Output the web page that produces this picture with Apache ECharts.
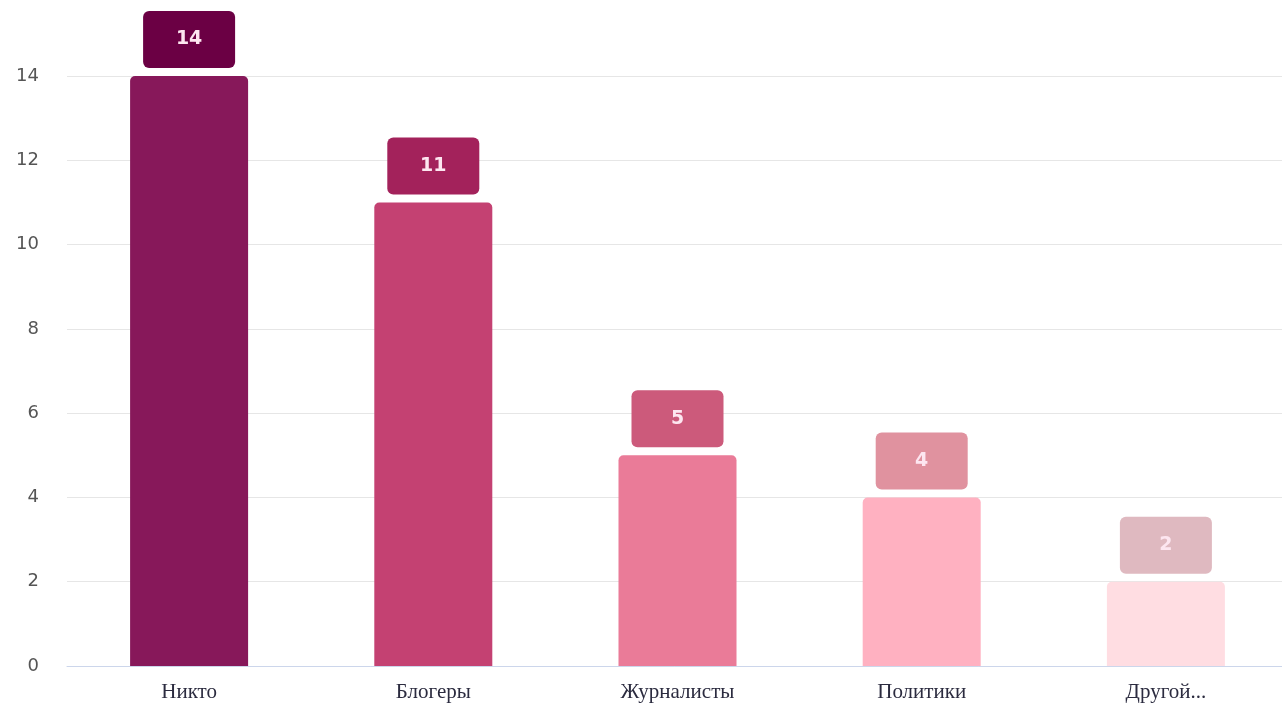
<!DOCTYPE html>
<html><head><meta charset="utf-8">
<script src="https://cdn.jsdelivr.net/npm/echarts@6/dist/echarts.min.js"></script>
<style>html,body{margin:0;padding:0;background:#fff}#c{width:1282px;height:709px}</style>
</head><body><div id="c"></div>
<script>
const categories = ['Никто', 'Блогеры', 'Журналисты', 'Политики', 'Другой...'];
const values = [14, 11, 5, 4, 2];
const barColors = ['#87185a', '#c44172', '#ea7b98', '#ffb1c1', '#ffdde2'];
const labelColors = ['#6b0044', '#a3225b', '#cc5a7b', '#e0929f', '#dfb9c0'];
const yTicks = [0, 2, 4, 6, 8, 10, 12, 14];

const chart = echarts.init(document.getElementById('c'));
chart.setOption({
  animation: false,
  grid: { left: 67, width: 1221, top: 76, bottom: 43, containLabel: false, outerBoundsMode: 'none' },
  xAxis: {
    type: 'category', data: categories,
    axisTick: { show: false },
    axisLine: { lineStyle: { color: '#ccd6eb', width: 1 } },
    axisLabel: { fontFamily: 'Liberation Serif', fontSize: 21, color: '#2b2b3f', margin: 16 }
  },
  yAxis: {
    type: 'value', min: 0, max: 14, interval: 2,
    axisLabel: { fontFamily: 'DejaVu Sans', fontSize: 18, color: '#555', margin: 28,
      formatter: v => yTicks.includes(v) ? String(v) : '' },
    splitLine: { lineStyle: { color: '#e6e6e6' } },
    axisLine: { show: false }, axisTick: { show: false }
  },
  series: [{
    type: 'bar', barWidth: 118,
    data: values.map((v, i) => ({
      value: v,
      itemStyle: { color: barColors[i], borderRadius: [5, 5, 0, 0] },
      label: { backgroundColor: labelColors[i] }
    })),
    label: {
      show: true, position: 'top', distance: 8,
      color: '#fde6f0', fontFamily: 'DejaVu Sans', fontWeight: 'bold', fontSize: 19,
      width: 92, height: 57, lineHeight: 57, align: 'center',
      borderRadius: 6, padding: 0
    }
  }]
});
</script></body></html>
